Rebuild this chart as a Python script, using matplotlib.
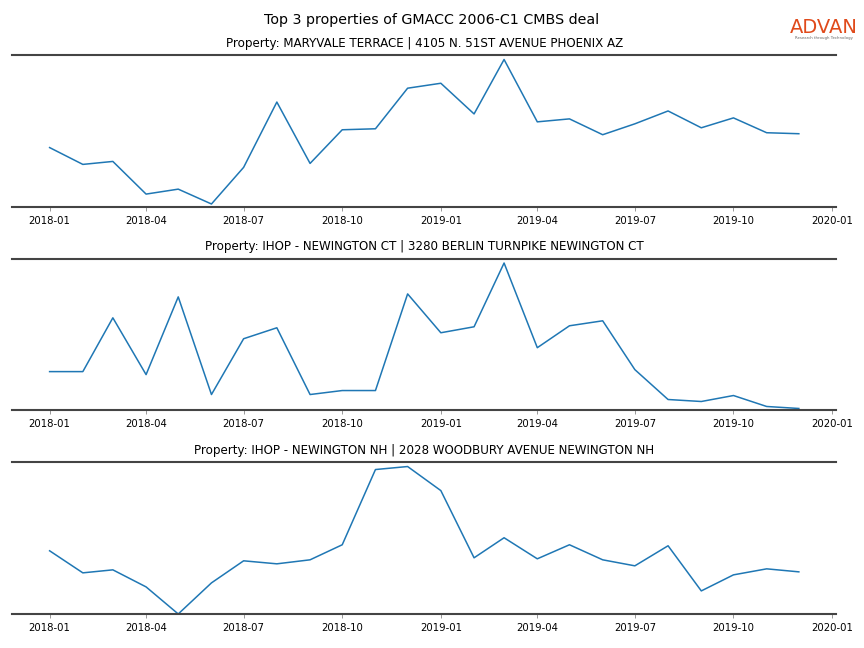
import matplotlib
matplotlib.use("Agg")
import matplotlib.pyplot as plt
import matplotlib.dates as mdates
import pandas as pd

# monthly visit index per property, 2018-01 .. 2019-12
months = pd.date_range("2018-01-01", periods=24, freq="MS")

maryvale = [60, 43, 46, 13, 18, 3, 40, 106, 44, 78, 79, 120,
            125, 94, 149, 86, 89, 73, 84, 97, 80, 90, 75, 74]
ihop_ct = [39, 39, 93, 36, 114, 16, 72, 83, 16, 20, 20, 117,
           78, 84, 148, 63, 85, 90, 41, 11, 9, 15, 4, 2]
ihop_nh = [63, 41, 44, 27, 0, 31, 53, 50, 54, 69, 144, 147,
           123, 56, 76, 55, 69, 54, 48, 68, 23, 39, 45, 42]

titles = [
    "Property: MARYVALE TERRACE | 4105 N. 51ST AVENUE PHOENIX AZ",
    "Property: IHOP - NEWINGTON CT | 3280 BERLIN TURNPIKE NEWINGTON CT",
    "Property: IHOP - NEWINGTON NH | 2028 WOODBURY AVENUE NEWINGTON NH",
]
series = [maryvale, ihop_ct, ihop_nh]

fig, axes = plt.subplots(3, 1, figsize=(8.64, 6.48), dpi=100)
fig.subplots_adjust(left=0.014, right=0.968, top=0.915, bottom=0.0525, hspace=0.34)

for ax, vals, title in zip(axes, series, titles):
    ax.plot(months, vals, color="#1f77b4", linewidth=1.1)
    ax.set_ylim(0, max(vals) * 1.03)
    ax.set_title(title, fontsize=8.6)
    ax.xaxis.set_major_locator(mdates.MonthLocator(bymonth=[1, 4, 7, 10]))
    ax.xaxis.set_major_formatter(mdates.DateFormatter("%Y-%m"))
    ax.set_xlim(pd.Timestamp("2017-11-27"), pd.Timestamp("2020-01-05"))
    ax.set_yticks([])
    for side in ["left", "right"]:
        ax.spines[side].set_visible(False)
    for side in ["top", "bottom"]:
        ax.spines[side].set_color("#444444")
        ax.spines[side].set_linewidth(1.5)
    ax.tick_params(axis="x", labelsize=7.3, length=3, color="#888888", width=0.6)

fig.suptitle("Top 3 properties of GMACC 2006-C1 CMBS deal", fontsize=10.3, y=0.98)

# logo
fig.text(0.954, 0.958, "ADVAN", color="#E04A1B", fontsize=14, ha="center", va="center")
fig.text(0.954, 0.941, "Research through Technology", color="#666666", fontsize=2.8,
         ha="center", va="center")

fig.savefig("out.png", dpi=100)
